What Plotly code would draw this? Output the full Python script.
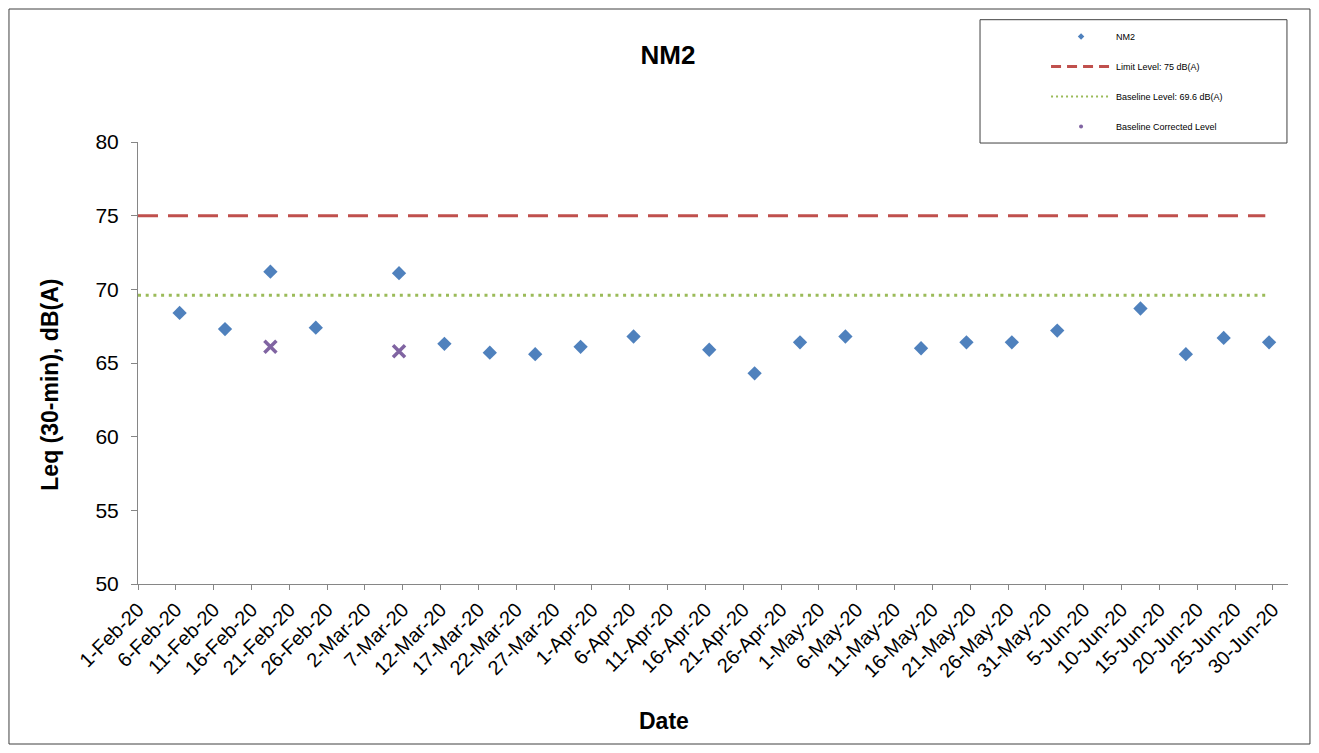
import pandas as pd
import plotly.graph_objects as go

# ------------------------------------------------------------------ #
# Data
# ------------------------------------------------------------------ #
nm2_dates = [
    "2020-02-06 12:00", "2020-02-12 12:00", "2020-02-18 12:00", "2020-02-24 12:00",
    "2020-03-06 12:00", "2020-03-12 12:00", "2020-03-18 12:00", "2020-03-24 12:00",
    "2020-03-30 12:00", "2020-04-06 12:00", "2020-04-16 12:00", "2020-04-22 12:00",
    "2020-04-28 12:00", "2020-05-04 12:00", "2020-05-14 12:00", "2020-05-20 12:00",
    "2020-05-26 12:00", "2020-06-01 12:00", "2020-06-12 12:00", "2020-06-18 12:00",
    "2020-06-23 12:00", "2020-06-29 12:00",
]
nm2_leq = [
    68.4, 67.3, 71.2, 67.4, 71.1, 66.3, 65.7, 65.6, 66.1, 66.8, 65.9,
    64.3, 66.4, 66.8, 66.0, 66.4, 66.4, 67.2, 68.7, 65.6, 66.7, 66.4,
]

corrected_dates = ["2020-02-18 12:00", "2020-03-06 12:00"]
corrected_leq = [66.1, 65.8]

line_dates = ["2020-02-01", "2020-06-29"]
limit_level = [75, 75]
baseline_level = [69.6, 69.6]

tick_dates = pd.date_range("2020-02-01", "2020-06-30", freq="5D")
tick_labels = [f"{d.day}-{d:%b-%y}" for d in tick_dates]

y_ticks = [50, 55, 60, 65, 70, 75, 80]

BLUE = "#4F81BD"
RED = "#C0504D"
GREEN = "#9BBB59"
PURPLE = "#8064A2"
AXIS = "#868686"
FONT = "Liberation Sans, Arial, sans-serif"

fig = go.Figure()

# Reference lines
fig.add_trace(go.Scatter(
    x=line_dates, y=limit_level, mode="lines",
    line=dict(color=RED, width=3, dash="20px,10px"),
    showlegend=False, hoverinfo="skip",
))
fig.add_trace(go.Scatter(
    x=line_dates, y=baseline_level, mode="lines",
    line=dict(color=GREEN, width=3, dash="3px,4.7px"),
    showlegend=False, hoverinfo="skip",
))

# Measurements
fig.add_trace(go.Scatter(
    x=nm2_dates, y=nm2_leq, mode="markers",
    marker=dict(symbol="diamond", size=11, color=BLUE),
    showlegend=False,
))
fig.add_trace(go.Scatter(
    x=corrected_dates, y=corrected_leq, mode="markers",
    marker=dict(symbol="x-thin", size=12, color=PURPLE,
                line=dict(color=PURPLE, width=3.5)),
    showlegend=False,
))

# Legend-only entries (small markers, like the original)
legend_entries = [
    dict(name="NM2", mode="markers",
         marker=dict(symbol="diamond", size=5, color=BLUE)),
    dict(name="Limit Level: 75 dB(A)", mode="lines",
         line=dict(color=RED, width=3, dash="10px,6px")),
    dict(name="Baseline Level: 69.6 dB(A)", mode="lines",
         line=dict(color=GREEN, width=2, dash="2px,3px")),
    dict(name="Baseline Corrected Level", mode="markers",
         marker=dict(symbol="circle", size=4, color=PURPLE)),
]
for i, entry in enumerate(legend_entries):
    fig.add_trace(go.Scatter(x=[None], y=[None], legendgroup=f"g{i}", **entry))

# ------------------------------------------------------------------ #
# Frame and legend box
# ------------------------------------------------------------------ #
fig.add_shape(type="rect", xref="paper", yref="paper",
              x0=-0.1122, x1=1.0191, y0=-0.362, y1=1.3009,
              line=dict(color="#404040", width=1))
fig.add_shape(type="rect", xref="paper", yref="paper",
              x0=0.7322, x1=0.9991, y0=0.9977, y1=1.2767,
              line=dict(color="#404040", width=1))

fig.add_annotation(text="<b>Leq (30-min), dB(A)</b>", xref="paper", yref="paper",
                   x=-0.0765, y=0.451, xanchor="center", yanchor="middle",
                   textangle=-90, showarrow=False,
                   font=dict(size=23, color="black", family=FONT))
fig.add_annotation(text="<b>Date</b>", xref="paper", yref="paper",
                   x=0.457, y=-0.311, xanchor="center", yanchor="middle",
                   showarrow=False,
                   font=dict(size=23, color="black", family=FONT))

fig.update_layout(
    width=1303,
    height=737,
    margin=dict(l=130, r=23, t=134, b=161),
    paper_bgcolor="white",
    plot_bgcolor="white",
    font=dict(family=FONT, color="black"),
    title=dict(text="<b>NM2</b>", x=0.5065, y=0.9362, xanchor="center",
               yanchor="middle", font=dict(size=26, family=FONT, color="black")),
    legend=dict(
        x=0.7896, y=1.2713, xanchor="left", yanchor="top",
        font=dict(size=9, family=FONT, color="black"),
        bgcolor="rgba(0,0,0,0)", borderwidth=0,
        traceorder="grouped", tracegroupgap=11,
        itemwidth=60,
    ),
    xaxis=dict(
        type="date",
        range=["2020-02-01", "2020-07-02"],
        tickmode="array", tickvals=tick_dates, ticktext=tick_labels,
        tickangle=-45, tickfont=dict(size=20, family=FONT, color="black"),
        showgrid=False, zeroline=False,
        showline=True, linecolor=AXIS, linewidth=1,
        ticks="outside", ticklen=5, tickcolor=AXIS,
    ),
    yaxis=dict(
        range=[50, 80],
        tickvals=y_ticks,
        tickfont=dict(size=21, family=FONT, color="black"),
        ticklabelstandoff=8,
        showgrid=False, zeroline=False,
        showline=True, linecolor=AXIS, linewidth=1,
        ticks="outside", ticklen=6, tickcolor=AXIS,
    ),
)

fig.write_html("out.html")
